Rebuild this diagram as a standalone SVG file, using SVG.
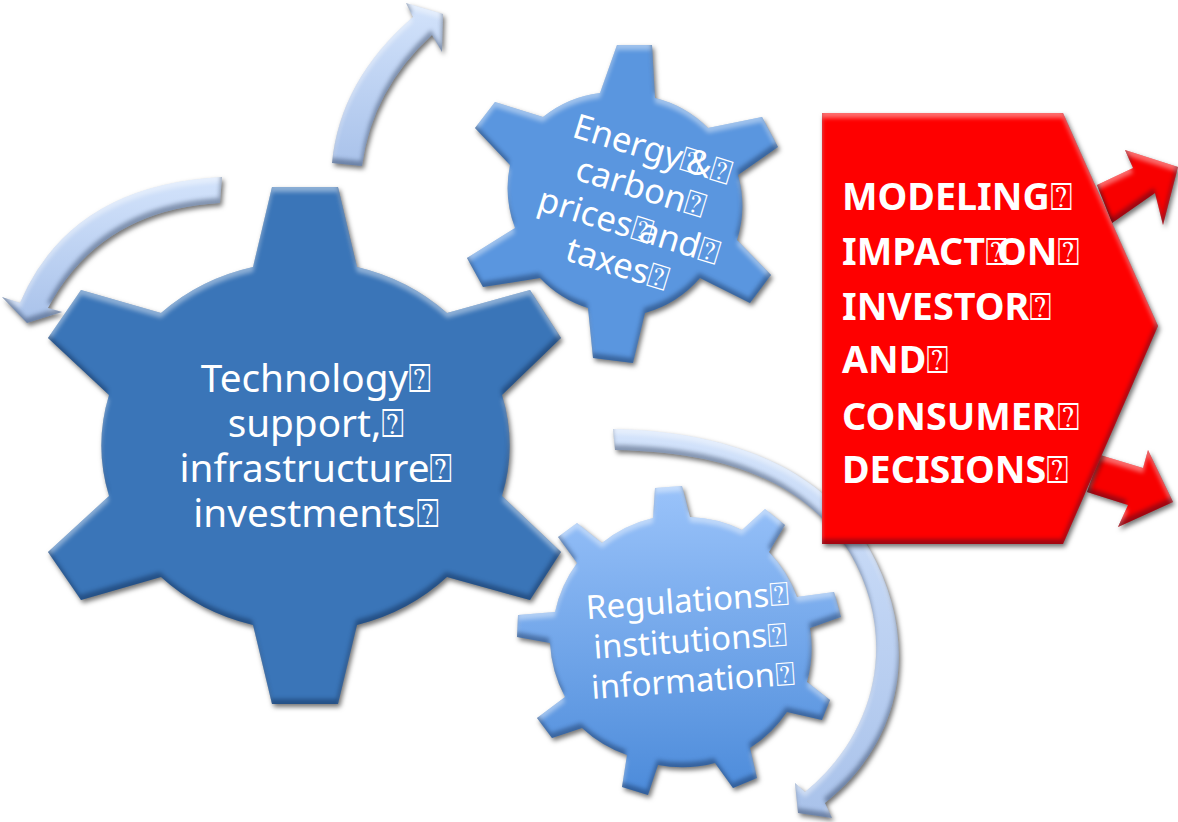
<svg xmlns="http://www.w3.org/2000/svg" width="1178" height="822" viewBox="0 0 1178 822">
<style>
text{font-family:"Noto Sans","Open Sans","DejaVu Sans",sans-serif;fill:#fff;text-anchor:middle}
.big{font-size:38.7px}
.en{font-size:34.5px}
.reg{font-size:33px}
.red{font-size:37.7px;font-weight:700;text-anchor:start}
.q{font-family:"DejaVu Sans",sans-serif;font-weight:400}
</style>
<defs>
<filter id="bev" x="-10%" y="-10%" width="125%" height="125%" color-interpolation-filters="sRGB">
<feGaussianBlur in="SourceGraphic" stdDeviation="0.7" result="soft"/>
<feGaussianBlur in="SourceAlpha" stdDeviation="2.2" result="b"/>
<feOffset in="b" dx="0" dy="5" result="o1"/>
<feComposite in="SourceAlpha" in2="o1" operator="out" result="e1"/>
<feFlood flood-color="#fff" flood-opacity="0.42"/><feComposite in2="e1" operator="in" result="hi"/>
<feOffset in="b" dx="-1" dy="-5" result="o2"/>
<feComposite in="SourceAlpha" in2="o2" operator="out" result="e2"/>
<feFlood flood-color="#001030" flood-opacity="0.36"/><feComposite in2="e2" operator="in" result="lo"/>
<feGaussianBlur in="SourceAlpha" stdDeviation="2.5"/><feOffset dx="2" dy="3" result="s"/>
<feFlood flood-color="#000" flood-opacity="0.55"/><feComposite in2="s" operator="in" result="shadow"/>
<feMerge><feMergeNode in="shadow"/><feMergeNode in="soft"/><feMergeNode in="hi"/><feMergeNode in="lo"/></feMerge>
</filter>
<linearGradient id="gReg" x1="0" y1="0" x2="0" y2="1"><stop offset="0" stop-color="#9AC3FA"/><stop offset="1" stop-color="#4C8BDA"/></linearGradient>
<linearGradient id="gArrow" x1="0" y1="0" x2="0" y2="1"><stop offset="0" stop-color="#D3E3FB"/><stop offset="1" stop-color="#A9C2EA"/></linearGradient>
</defs>
<g id="connectors" filter="url(#bev)">
<path fill="url(#gArrow)" d="M332,163 Q340,80 413,17 L406,3 L443,14 L442,52 L432,35 Q372,90 362,166 Z"/>
<path fill="url(#gArrow)" d="M222,177 Q70,185 20,303 L2,297 L27,323 L62,312 L48,308 Q100,210 220,203 Z"/>
<path fill="url(#gArrow)" d="M613,429 C750,432 830,480 870,550 C920,640 905,740 825,803 L832,818 L798,813 L795,783 L805,792 C875,735 900,640 850,553 C810,490 740,452 615,450 Z"/>
</g>
<g id="arrow-out-top" filter="url(#bev)"><path fill="#F80000" d="M1097,185 L1133,168 L1125,150 L1178,167 L1163,225 L1155,193 L1112,223 Z"/></g>
<g id="arrow-out-bottom" filter="url(#bev)"><path fill="#F80000" d="M1100,455 L1143,468 L1148,450 L1173,502 L1118,527 L1128,505 L1087,492 Z"/></g>
<g id="node-technology">
<path filter="url(#bev)" fill="#3A75B8" d="M272,187 L338,187 L357,267 A203,187 0 0 1 447,313 L530,290 L561,338 L502,395 A203,187 0 0 1 502,496 L561,552 L530,600 L447,577 A203,187 0 0 1 357,625 L338,704 L272,704 L253,625 A203,187 0 0 1 161,577 L81,600 L48,552 L109,496 A203,187 0 0 1 109,395 L48,338 L81,290 L161,313 A203,187 0 0 1 253,267 Z"/>
<text class="big"><tspan x="316" y="392">Technology<tspan class="q">⍰</tspan></tspan><tspan x="316" y="437">support,<tspan class="q">⍰</tspan></tspan><tspan x="316" y="482">infrastructure<tspan class="q">⍰</tspan></tspan><tspan x="316" y="527">investments<tspan class="q">⍰</tspan></tspan></text>
</g>
<g id="node-energy">
<path filter="url(#bev)" fill="#5A96DF" d="M617,45 L652,45 L655,98 A113,113 0 0 1 708,128 L762,117 L778,147 L738,175 A113,113 0 0 1 737,240 L771,275 L750,303 L700,278 A113,113 0 0 1 645,313 L633,363 L593,358 L588,308 A113,113 0 0 1 540,278 L483,287 L467,258 L515,228 A113,113 0 0 1 510,165 L475,128 L495,102 L543,117 A113,113 0 0 1 600,93 Z"/>
<text class="en" transform="rotate(17 632 218)"><tspan x="632" y="158">Energy<tspan class="q">⍰</tspan><tspan dx="-15">&amp;</tspan><tspan class="q">⍰</tspan></tspan><tspan x="632" y="198">carbon<tspan class="q">⍰</tspan></tspan><tspan x="632" y="238">prices<tspan class="q">⍰</tspan><tspan dx="-12">and</tspan><tspan class="q">⍰</tspan></tspan><tspan x="632" y="278">taxes<tspan class="q">⍰</tspan></tspan></text>
</g>
<g id="node-regulations">
<path filter="url(#bev)" fill="url(#gReg)" d="M655,488 L682,486 L690,517 A128,128 0 0 1 742,530 L765,509 L785,525 L769,552 A128,128 0 0 1 797,597 L834,592 L841,617 L810,628 A128,128 0 0 1 807,682 L830,700 L822,720 L787,712 A128,128 0 0 1 750,748 L757,778 L733,788 L715,763 A128,128 0 0 1 658,765 L648,795 L622,787 L627,755 A128,128 0 0 1 582,728 L552,738 L537,718 L565,697 A128,128 0 0 1 550,643 L517,637 L518,615 L555,612 A128,128 0 0 1 577,563 L558,537 L577,523 L602,543 A128,128 0 0 1 653,518 Z"/>
<text class="reg" transform="rotate(-4 691 652)"><tspan x="691" y="612">Regulations<tspan class="q">⍰</tspan></tspan><tspan x="691" y="652">institutions<tspan class="q">⍰</tspan></tspan><tspan x="691" y="692">information<tspan class="q">⍰</tspan></tspan></text>
</g>
<g id="node-modeling">
<path filter="url(#bev)" fill="#FE0000" d="M822,113 L1063,113 L1158,326 L1063,544 L822,544 Z"/>
<text class="red"><tspan x="842" y="210">MODELING<tspan class="q">⍰</tspan></tspan><tspan x="842" y="265">IMPACT<tspan class="q">⍰</tspan><tspan dx="-11">ON</tspan><tspan class="q">⍰</tspan></tspan><tspan x="842" y="320">INVESTOR<tspan class="q">⍰</tspan></tspan><tspan x="842" y="373">AND<tspan class="q">⍰</tspan></tspan><tspan x="842" y="430">CONSUMER<tspan class="q">⍰</tspan></tspan><tspan x="842" y="483">DECISIONS<tspan class="q">⍰</tspan></tspan></text>
</g>
</svg>
